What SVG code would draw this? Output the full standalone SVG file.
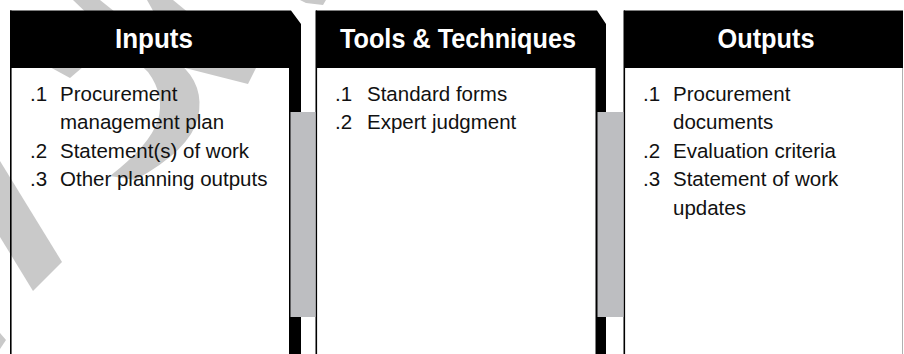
<svg xmlns="http://www.w3.org/2000/svg" width="904" height="354" viewBox="0 0 904 354">
<style>
.body{fill:#ffffff}
.edge{stroke:#000;stroke-width:1.6;fill:none}
.head{fill:#000}
.shade{fill:#c9c9c9}
.bar{fill:#bdbec1}
.ht{font-family:"Liberation Sans",Arial,sans-serif;font-weight:bold;font-size:27px;fill:#fff;text-anchor:middle}
.tx{font-family:"Liberation Sans",Arial,sans-serif;font-size:20.5px;fill:#111}
</style>
<rect width="904" height="354" fill="#fff"/>
<rect class="body" x="10" y="68" width="280" height="290"/>
<rect class="body" x="316" y="68" width="281" height="290"/>
<rect class="body" x="624" y="68" width="279" height="290"/>
<g id="backdrop">
<path class="shade" d="M73,0 L100,0 L180,64 Q205,85 198,118 Q190,150 135,180 L110,176 Q150,145 158,120 Q165,95 148,72 Z"/>
<path class="shade" d="M147,0 L173,0 L256,68 L248,84 L185,68 Z"/>
<path class="shade" d="M48,66 L84,66 L70,78 Z"/>
<path class="shade" d="M300,0 L326,0 L323,5 L306,3 Z"/>
<path class="shade" d="M0,161 L62,262 L33,291 L0,237 Z"/>
<path class="shade" d="M0,333 L6,340 L0,349 Z"/>
</g>
<g id="inputs">
<path class="head" d="M10,10.5 H291 L301,24 V354 H289 V68 H10 Z"/>
<line class="edge" x1="10.8" y1="10.5" x2="10.8" y2="354"/>
<text class="ht" x="154" y="48" textLength="78" lengthAdjust="spacingAndGlyphs">Inputs</text>
<text class="tx" y="101"><tspan x="30">.1</tspan><tspan x="60">Procurement</tspan></text>
<text class="tx" y="129"><tspan x="60">management plan</tspan></text>
<text class="tx" y="157.5"><tspan x="30">.2</tspan><tspan x="60">Statement(s) of work</tspan></text>
<text class="tx" y="186"><tspan x="30">.3</tspan><tspan x="60">Other planning outputs</tspan></text>
</g>
<g id="tools">
<path class="head" d="M316,10.5 H597 L606,24 V354 H595.5 V68 H316 Z"/>
<line class="edge" x1="316.3" y1="10.5" x2="316.3" y2="354"/>
<text class="ht" x="458" y="48" textLength="236" lengthAdjust="spacingAndGlyphs">Tools &amp; Techniques</text>
<text class="tx" y="101"><tspan x="335">.1</tspan><tspan x="367">Standard forms</tspan></text>
<text class="tx" y="129"><tspan x="335">.2</tspan><tspan x="367">Expert judgment</tspan></text>
</g>
<g id="outputs">
<path class="head" d="M624,10.5 H903 V68 H624 Z"/>
<line class="edge" x1="624.3" y1="10.5" x2="624.3" y2="354"/>
<line x1="902.5" y1="68" x2="902.5" y2="354" stroke="#b0b0b0" stroke-width="1"/>
<text class="ht" x="766" y="48" textLength="97" lengthAdjust="spacingAndGlyphs">Outputs</text>
<text class="tx" y="101"><tspan x="643">.1</tspan><tspan x="673">Procurement</tspan></text>
<text class="tx" y="129"><tspan x="673">documents</tspan></text>
<text class="tx" y="157.5"><tspan x="643">.2</tspan><tspan x="673">Evaluation criteria</tspan></text>
<text class="tx" y="186"><tspan x="643">.3</tspan><tspan x="673">Statement of work</tspan></text>
<text class="tx" y="214.5"><tspan x="673">updates</tspan></text>
</g>
<g id="connectors">
<rect class="bar" x="290.5" y="112" width="25" height="205"/>
<rect class="bar" x="597.5" y="112" width="26" height="205"/>
</g>
</svg>
